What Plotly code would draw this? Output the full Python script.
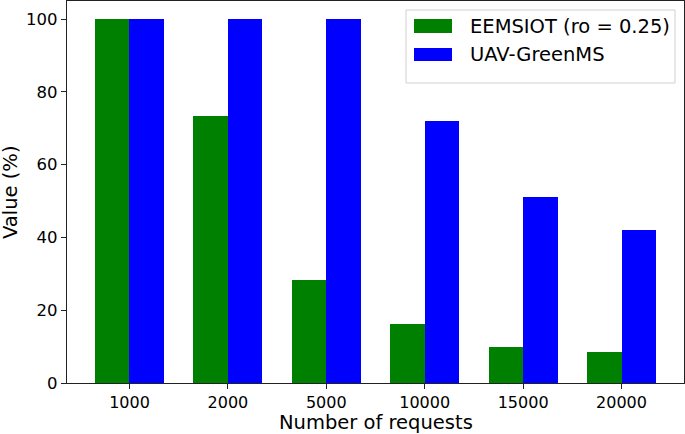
import plotly.graph_objects as go

categories = ["1000", "2000", "5000", "10000", "15000", "20000"]
eemsiot = [100, 73.4, 28.3, 16.1, 10.0, 8.6]
uav = [100, 100, 100, 71.9, 51.1, 42.0]
series_names = ["EEMSIOT (ro = 0.25)", "UAV-GreenMS"]
series_colors = ["green", "blue"]
y_ticks = [0, 20, 40, 60, 80, 100]
x_title = "Number of requests"
y_title = "Value (%)"

W, H = 685, 434
L, R, T, B = 67, 1, 1, 51
pw, ph = W - L - R, H - T - B

def px(x):
    return (x - L) / pw

def py(y):
    return (H - B - y) / ph

xi = list(range(len(categories)))
bw = 0.35
fig = go.Figure()
for vals, name, col, off in [(eemsiot, series_names[0], series_colors[0], -bw / 2),
                             (uav, series_names[1], series_colors[1], bw / 2)]:
    fig.add_trace(go.Bar(x=[i + off for i in xi], y=vals, width=bw, name=name,
                         marker=dict(color=col, line=dict(width=0)), showlegend=False,
                         hoverinfo="skip"))

FONT = "DejaVu Sans"
fig.update_layout(
    width=W, height=H,
    margin=dict(l=L, r=R, t=T, b=B, autoexpand=False),
    plot_bgcolor="white", paper_bgcolor="white",
    font=dict(family=FONT, color="black"),
    bargap=0,
    xaxis=dict(range=[-0.635, 5.635], tickvals=xi, ticktext=categories,
               showgrid=False, zeroline=False, showline=True, mirror=True,
               linecolor="#222", linewidth=1.2, ticks="outside", ticklen=5,
               tickcolor="#222", tickfont=dict(size=16), automargin=False,
               ticklabelstandoff=0),
    yaxis=dict(range=[0, 105], tickvals=y_ticks, showgrid=False, zeroline=False,
               showline=True, mirror=True, linecolor="#222", linewidth=1.2,
               ticks="outside", ticklen=5, tickcolor="#222", tickfont=dict(size=16.5),
               automargin=False),
)

# axis titles
fig.add_annotation(xref="paper", yref="paper", x=px((67 + 684) / 2), y=py(422.5),
                   xanchor="center", yanchor="middle", text=x_title, showarrow=False,
                   font=dict(size=19.5, family=FONT, color="black"))
fig.add_annotation(xref="paper", yref="paper", x=px(10), y=py(192), textangle=-90,
                   xanchor="center", yanchor="middle", text=y_title, showarrow=False,
                   font=dict(size=19.5, family=FONT, color="black"))

# legend drawn as shapes + text
shapes = [dict(type="rect", xref="paper", yref="paper", x0=px(406), x1=px(675),
               y0=py(83), y1=py(10), line=dict(color="#d0d0d0", width=1),
               fillcolor="rgba(255,255,255,0.8)")]
rows = [(19, 33), (48, 61)]
for (y0, y1), col, name in zip(rows, series_colors, series_names):
    shapes.append(dict(type="rect", xref="paper", yref="paper", x0=px(414), x1=px(452),
                       y0=py(y1), y1=py(y0), line=dict(width=0), fillcolor=col))
    fig.add_annotation(xref="paper", yref="paper", x=px(468), y=py((y0 + y1) / 2),
                       xanchor="left", yanchor="middle", text=name, showarrow=False,
                       font=dict(size=19.5, family=FONT, color="black"))
fig.update_layout(shapes=shapes)

fig.write_html("out.html", config={"displayModeBar": False, "staticPlot": True},
               post_script="document.body.style.margin='0';document.body.style.overflow='hidden';")
